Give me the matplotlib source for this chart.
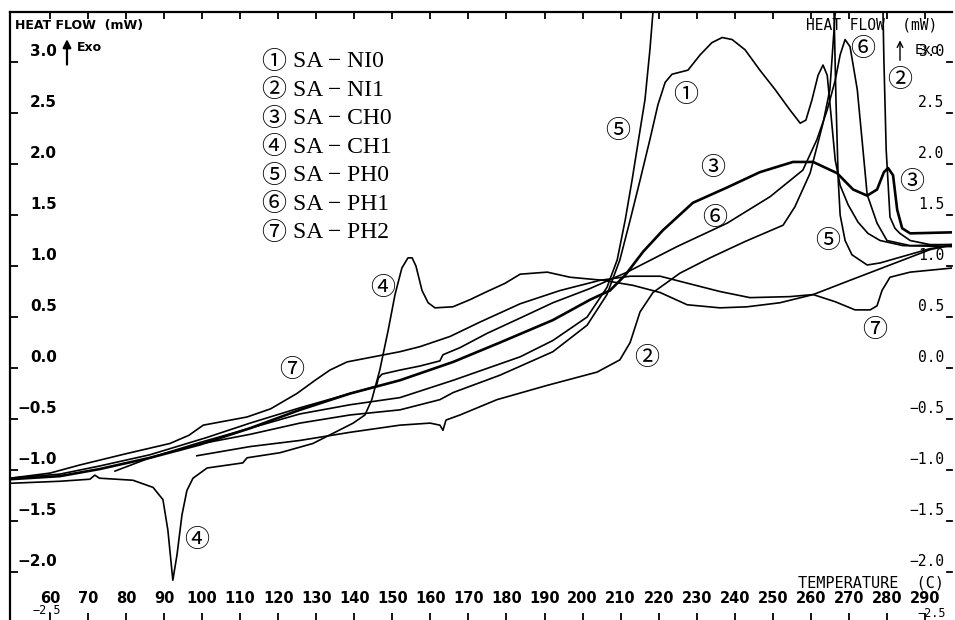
import matplotlib
matplotlib.use("Agg")
import matplotlib.pyplot as plt

# DSC heat-flow traces (temperature in C, heat flow in mW)
temp_ni0 = [98.6, 112.6, 125.7, 138.9, 152.0, 162.5, 166.0, 178.3, 192.2, 201.2, 206.4, 209.8,
            212.5, 215.1, 217.7, 219.8, 221.7, 223.5, 225.6, 227.7, 230.9, 234.0, 236.7, 239.3,
            242.7, 246.6, 250.6, 254.5, 257.2, 258.7, 260.3, 261.9, 263.2, 264.3, 265.3, 266.4,
            267.7, 269.8, 272.4, 275.0, 278.2, 284.2, 297.1]
hf_ni0 = [-0.75, -0.65, -0.54, -0.46, -0.41, -0.31, -0.24, -0.07, 0.16, 0.42, 0.72, 1.06,
          1.45, 1.84, 2.24, 2.58, 2.80, 2.88, 2.90, 2.92, 3.07, 3.19, 3.24, 3.22,
          3.12, 2.92, 2.73, 2.53, 2.40, 2.43, 2.63, 2.87, 2.97, 2.87, 2.48, 2.04,
          1.79, 1.60, 1.43, 1.32, 1.25, 1.20, 1.19]

temp_ni1 = [98.6, 112.6, 125.7, 138.9, 152.0, 159.9, 162.5, 163.3, 164.1, 167.8, 177.5, 190.7,
            203.8, 209.8, 212.5, 215.1, 218.5, 225.6, 233.5, 242.7, 252.7, 255.8, 259.8, 263.2,
            265.0, 266.4, 267.2, 278.7, 279.2, 279.8, 280.8, 282.1, 283.4, 286.1, 291.3, 297.1]
hf_ni1 = [-0.86, -0.77, -0.71, -0.63, -0.56, -0.54, -0.56, -0.61, -0.51, -0.46, -0.31, -0.17,
          -0.04, 0.08, 0.25, 0.55, 0.74, 0.93, 1.08, 1.24, 1.40, 1.58, 1.91, 2.40,
          2.73, 3.48, 4.00, 4.00, 3.02, 2.14, 1.48, 1.37, 1.32, 1.25, 1.21, 1.21]

temp_ch0 = [49.5, 62.6, 73.1, 86.3, 99.4, 112.6, 125.7, 138.9, 152.0, 166.0, 178.3, 192.2,
            202.0, 207.2, 211.2, 215.9, 221.1, 229.0, 238.0, 246.6, 255.3, 260.6, 266.9, 271.1,
            274.8, 277.4, 279.2, 280.3, 281.6, 282.7, 284.0, 286.1, 297.1]
hf_ch0 = [-1.09, -1.06, -0.99, -0.88, -0.75, -0.59, -0.41, -0.25, -0.12, 0.06, 0.25, 0.47,
          0.67, 0.76, 0.91, 1.14, 1.35, 1.62, 1.77, 1.92, 2.02, 2.02, 1.91, 1.75,
          1.69, 1.75, 1.92, 1.96, 1.89, 1.55, 1.37, 1.32, 1.33]

temp_ch1 = [49.5, 62.6, 70.5, 71.8, 73.0, 81.8, 87.1, 89.7, 91.0, 92.3, 93.4, 94.7, 96.0, 97.6,
            101.3, 110.7, 111.8, 120.5, 129.1, 134.4, 139.7, 142.8, 144.6, 146.7, 148.9, 150.7,
            152.5, 154.1, 155.2, 156.2, 157.8, 159.4, 161.2, 165.9, 170.4, 174.9, 179.6, 183.6,
            190.7, 196.7, 205.4, 213.3, 220.4, 227.5, 236.1, 243.2, 251.9, 260.6, 270.3, 280.8,
            291.3, 297.1]
hf_ch1 = [-1.13, -1.11, -1.09, -1.05, -1.08, -1.10, -1.17, -1.29, -1.59, -2.08, -1.83, -1.44,
          -1.20, -1.08, -0.98, -0.93, -0.88, -0.83, -0.74, -0.64, -0.54, -0.46, -0.31, -0.02,
          0.37, 0.72, 0.98, 1.08, 1.08, 1.00, 0.76, 0.64, 0.59, 0.60, 0.67, 0.75, 0.83, 0.92,
          0.94, 0.89, 0.86, 0.81, 0.74, 0.62, 0.59, 0.60, 0.64, 0.72, 0.86, 1.01, 1.16, 1.21]

temp_ph0 = [77.1, 86.3, 99.4, 112.6, 125.7, 138.9, 152.0, 166.0, 183.6, 192.2, 201.2, 206.4,
            209.1, 211.2, 213.0, 215.1, 216.4, 217.7, 218.5, 219.6, 265.0, 266.1, 266.6, 267.2,
            267.7, 269.0, 270.8, 274.8, 278.2, 291.3, 297.1]
hf_ph0 = [-1.01, -0.88, -0.73, -0.59, -0.45, -0.36, -0.29, -0.12, 0.11, 0.27, 0.50, 0.79,
          1.06, 1.45, 1.84, 2.33, 2.63, 3.12, 3.49, 4.00, 4.00, 3.48, 2.63, 1.84,
          1.50, 1.25, 1.11, 1.01, 1.03, 1.17, 1.20]

temp_ph1 = [49.5, 62.6, 73.1, 86.3, 101.3, 112.6, 125.7, 138.9, 145.8, 146.3, 147.3, 152.0,
            157.3, 162.5, 163.3, 167.8, 174.9, 183.6, 192.2, 202.0, 211.7, 224.8, 238.0, 249.3,
            257.9, 261.6, 264.3, 266.4, 267.7, 269.0, 270.3, 272.2, 273.7, 274.8, 277.4, 280.0,
            286.1, 297.1]
hf_ph1 = [-1.08, -1.04, -0.96, -0.85, -0.68, -0.54, -0.39, -0.25, -0.18, -0.10, -0.06, -0.02,
          0.02, 0.07, 0.13, 0.20, 0.34, 0.49, 0.64, 0.78, 0.94, 1.19, 1.42, 1.68,
          1.94, 2.24, 2.53, 2.82, 3.07, 3.22, 3.15, 2.73, 2.14, 1.70, 1.42, 1.25,
          1.20, 1.21]

temp_ph2 = [49.5, 60.0, 67.9, 80.0, 91.5, 96.5, 100.3, 111.8, 118.0, 124.9, 129.7, 133.6,
            138.1, 152.0, 157.3, 165.2, 173.0, 183.6, 194.1, 204.6, 212.5, 220.4, 225.6, 236.1,
            244.0, 254.5, 260.6, 266.4, 271.6, 275.6, 277.4, 278.7, 280.8, 286.1, 297.1]
hf_ph2 = [-1.08, -1.03, -0.95, -0.84, -0.74, -0.66, -0.56, -0.48, -0.40, -0.25, -0.12, -0.02,
          0.06, 0.16, 0.21, 0.31, 0.45, 0.63, 0.76, 0.86, 0.90, 0.90, 0.85, 0.75,
          0.69, 0.70, 0.72, 0.65, 0.57, 0.57, 0.61, 0.76, 0.89, 0.94, 0.98]

sample_names = ["SA − NI0", "SA − NI1", "SA − CH0", "SA − CH1", "SA − PH0", "SA − PH1", "SA − PH2"]
markers = ["①", "②", "③", "④", "⑤", "⑥", "⑦"]

x_ticks = list(range(60, 300, 10))
y_ticks = [-2.0, -1.5, -1.0, -0.5, 0.0, 0.5, 1.0, 1.5, 2.0, 2.5, 3.0]
right_ticks = [-2.5] + y_ticks

serif = ["Liberation Serif", "Noto Sans CJK JP", "DejaVu Sans"]
circled = ["Noto Sans CJK JP", "DejaVu Sans"]
bold_font = dict(family="DejaVu Sans", weight="bold")
mono_font = dict(family="DejaVu Sans Mono")

fig = plt.figure(figsize=(9.55, 6.2), dpi=100)
ax = fig.add_axes([10 / 955, 0.0, 942 / 955, 608 / 620])

curves = [
    (temp_ni0, hf_ni0, 1.2),
    (temp_ni1, hf_ni1, 1.2),
    (temp_ch0, hf_ch0, 1.9),
    (temp_ch1, hf_ch1, 1.2),
    (temp_ph0, hf_ph0, 1.2),
    (temp_ph1, hf_ph1, 1.2),
    (temp_ph2, hf_ph2, 1.2),
]
for t, hf, lw in curves:
    ax.plot(t, hf, color="black", lw=lw, solid_joinstyle="round")

ax.set_xlim(49.5, 297.1)
ax.set_ylim(-2.47, 3.49)

for side in ["right", "bottom"]:
    ax.spines[side].set_visible(False)
ax.spines["left"].set_linewidth(1.6)
ax.spines["top"].set_linewidth(1.6)

ax.set_xticks(x_ticks)
ax.set_yticks(y_ticks)
ax.tick_params(axis="x", direction="in", top=True, bottom=True, length=5, width=1.3,
               labelbottom=False)
ax.tick_params(axis="y", direction="in", left=True, right=False, length=6, width=1.3,
               labelleft=False)

# right-hand ticks drawn as short dashes at the edge
for v in right_ticks:
    ax.plot([0.995, 1.0], [v, v], color="black", lw=1.3,
            transform=ax.get_yaxis_transform(), clip_on=False)

# tick labels
xtr = ax.get_xaxis_transform()
ytr = ax.get_yaxis_transform()
for t in x_ticks:
    ax.text(t, 0.036, str(t), transform=xtr, ha="center", va="center", fontsize=10.5,
            **bold_font)
for v in y_ticks:
    ax.text(0.050, v + 0.1, f"{v:.1f}".replace("-", "−"), transform=ytr, ha="right",
            va="center", fontsize=11, **bold_font)
for v in right_ticks[1:]:
    ax.text(0.9915, v + 0.1, f"{v:.1f}".replace("-", "−"), transform=ytr, ha="right",
            va="center", fontsize=10.5, **mono_font)
ax.text(0.039, 0.015, "−2.5", transform=ax.transAxes, ha="center", va="center",
        fontsize=8.5, **mono_font)
ax.text(0.978, 0.0115, "−2.5", transform=ax.transAxes, ha="center", va="center",
        fontsize=8.5, **mono_font)

# axis titles
ax.text(0.0053, 0.9786, "HEAT FLOW  (mW)", transform=ax.transAxes, ha="left", va="center",
        fontsize=9, **bold_font)
ax.text(0.984, 0.9786, "HEAT FLOW  (mW)", transform=ax.transAxes, ha="right", va="center",
        fontsize=10.5, **mono_font)
ax.text(0.9915, 0.061, "TEMPERATURE  (C)", transform=ax.transAxes, ha="right", va="center",
        fontsize=11, **mono_font)

# exotherm direction arrows
ax.annotate("", xy=(0.0605, 0.960), xytext=(0.0605, 0.909), xycoords="axes fraction",
            arrowprops=dict(arrowstyle="-|>", color="black", lw=1.6, mutation_scale=12))
ax.text(0.0711, 0.9408, "Exo", transform=ax.transAxes, ha="left", va="center",
        fontsize=9, **bold_font)
ax.annotate("", xy=(0.9448, 0.958), xytext=(0.9448, 0.916), xycoords="axes fraction",
            arrowprops=dict(arrowstyle="->", color="black", lw=1.0, mutation_scale=10))
ax.text(0.9607, 0.9375, "Exo", transform=ax.transAxes, ha="left", va="center",
        fontsize=10, **mono_font)

# sample key
for i, (m, name) in enumerate(zip(markers, sample_names)):
    y = 0.918 - i * 0.0469
    ax.text(0.280, y, m, transform=ax.transAxes, ha="center", va="center",
            fontsize=18, family=circled)
    ax.text(0.300, y, name, transform=ax.transAxes, ha="left", va="center",
            fontsize=17, family=serif)

# curve numbers
curve_tags = [
    ("①", 227.0, 2.68), ("⑤", 209.1, 2.32), ("③", 234.3, 1.96), ("⑥", 234.8, 1.47),
    ("⑤", 264.5, 1.25), ("⑥", 273.7, 3.13), ("②", 283.4, 2.82), ("③", 286.6, 1.82),
    ("⑦", 276.9, 0.37), ("⑦", 123.6, -0.02), ("④", 147.5, 0.78), ("②", 216.9, 0.10),
    ("④", 98.6, -1.69),
]
for m, t, v in curve_tags:
    ax.text(t, v, m, ha="center", va="center", fontsize=18, family=circled)

fig.savefig("out.png", dpi=100, facecolor="white")
